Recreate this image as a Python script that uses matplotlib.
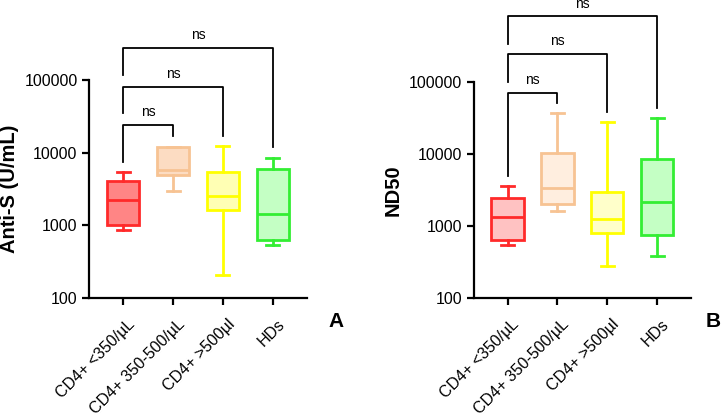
import matplotlib
matplotlib.use("Agg")
import matplotlib.pyplot as plt
from matplotlib.transforms import ScaledTranslation

plt.rcParams['font.family'] = ['Liberation Sans', 'DejaVu Sans']

groups = ['CD4+ <350/µL', 'CD4+ 350-500/µL', 'CD4+ >500µl', 'HDs']

# panel A: Anti-S (U/mL) box stats
a_whislo = [873, 2930, 210, 543]
a_q1 = [1000, 4960, 1607, 635]
a_med = [2200, 5810, 2500, 1445]
a_q3 = [4020, 12150, 5460, 5930]
a_whishi = [5350, 12150, 12540, 8400]

# panel B: ND50 box stats
b_whislo = [548, 1590, 279, 378]
b_q1 = [641, 2010, 793, 752]
b_med = [1316, 3370, 1250, 2160]
b_q3 = [2400, 10100, 2970, 8540]
b_whishi = [3590, 36600, 27300, 31600]

# significance brackets: (group j, bar height, left leg end, right leg end)
a_brackets = [(2, 24100, 7400, 17200), (3, 81000, 34900, 17200), (4, 278000, 117000, 11800)]
b_brackets = [(2, 69100, 4930, 50300), (3, 240000, 100000, 37400), (4, 801000, 337000, 43000)]

edge_colors = ['#ff2a2a', '#f7c393', '#ffff00', '#33ee33']
fill_a = ['#ff8585', '#fcdcc2', '#ffffb4', '#c4ffc4']
fill_b = ['#ffc2c2', '#ffeedf', '#ffffca', '#c4ffc4']


def draw_panel(ax, lo, q1, med, q3, hi, fills, brackets, ylabel):
    stats = []
    for i in range(4):
        stats.append({'whislo': lo[i], 'q1': q1[i], 'med': med[i], 'q3': q3[i],
                      'whishi': hi[i], 'fliers': []})
    bp = ax.bxp(stats, positions=[1, 2, 3, 4], widths=0.65, capwidths=0.26,
                patch_artist=True, showfliers=False)
    for i in range(4):
        bp['boxes'][i].set(facecolor=fills[i], edgecolor=edge_colors[i], linewidth=2)
        bp['medians'][i].set(color=edge_colors[i], linewidth=2)
        for k in (2 * i, 2 * i + 1):
            bp['whiskers'][k].set(color=edge_colors[i], linewidth=2)
            bp['caps'][k].set(color=edge_colors[i], linewidth=2)

    ax.set_yscale('log')
    ax.set_ylim(100, 100000)
    ax.set_xlim(0.32, 4.68)
    ax.set_yticks([100, 1000, 10000, 100000])
    ax.set_yticklabels(['100', '1000', '10000', '100000'])
    ax.minorticks_off()
    ax.spines['top'].set_visible(False)
    ax.spines['right'].set_visible(False)
    ax.spines['left'].set_linewidth(1.6)
    ax.spines['bottom'].set_linewidth(1.6)
    ax.tick_params(axis='both', width=1.6, length=5, labelsize=11.5)
    ax.set_xticks([1, 2, 3, 4])
    ax.set_xticklabels(groups, rotation=45, ha='right', rotation_mode='anchor')
    shift = ScaledTranslation(4 / 100, -7 / 100, ax.figure.dpi_scale_trans)
    for lab in ax.get_xticklabels():
        lab.set_transform(lab.get_transform() + shift)
    ax.set_ylabel(ylabel, fontsize=14.5, fontweight='bold')

    for j, top, left_end, right_end in brackets:
        ax.plot([1, 1, j, j], [left_end, top, top, right_end], color='black',
                linewidth=1.3, clip_on=False)
        ax.text((1 + j) / 2, top * 1.2, 'ns', ha='center', va='bottom',
                fontsize=10, clip_on=False)


fig = plt.figure(figsize=(7.22, 4.17), dpi=100)
ax_a = fig.add_axes([0.1237, 0.2854, 0.3011, 0.5228])
ax_b = fig.add_axes([0.6561, 0.2854, 0.3010, 0.5190])

draw_panel(ax_a, a_whislo, a_q1, a_med, a_q3, a_whishi, fill_a, a_brackets,
           'Anti-S (U/mL)')
draw_panel(ax_b, b_whislo, b_q1, b_med, b_q3, b_whishi, fill_b, b_brackets,
           'ND50')

fig.text(328 / 722, 1 - 312 / 417, 'A', fontsize=15, fontweight='bold',
         ha='left', va='top')
fig.text(706 / 722, 1 - 312 / 417, 'B', fontsize=15, fontweight='bold',
         ha='left', va='top')

fig.savefig('out.png', dpi=100)
